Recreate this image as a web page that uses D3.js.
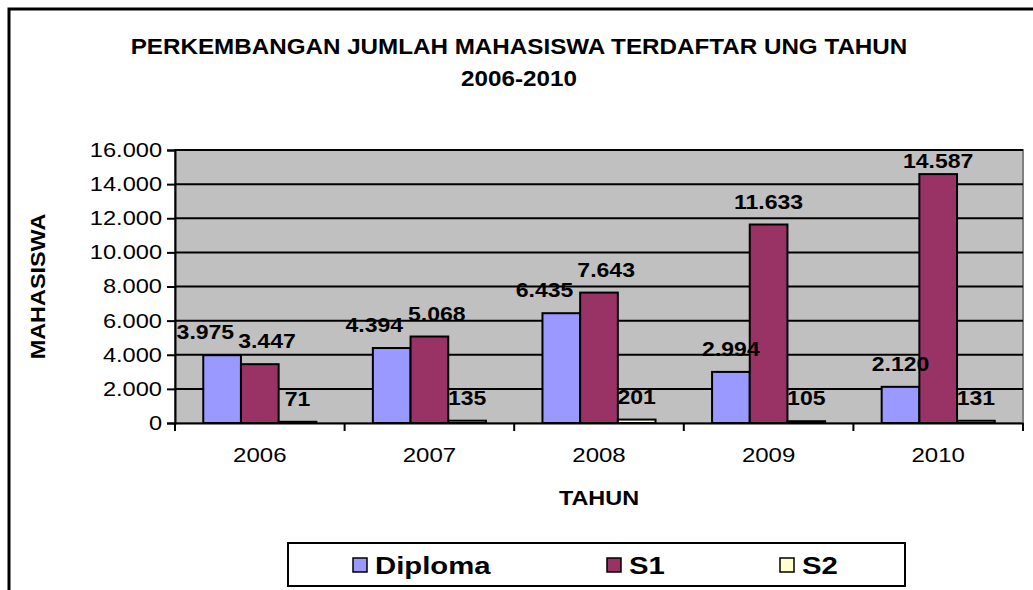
<!DOCTYPE html>
<html>
<head>
<meta charset="utf-8">
<script src="https://cdn.jsdelivr.net/npm/d3@7"></script>
<style>
  body { margin: 0; background: #fff; }
  text { font-family: "Liberation Sans", Arial, sans-serif; }
</style>
</head>
<body>
<script>
// data
var years = ["2006", "2007", "2008", "2009", "2010"];
var seriesNames = ["Diploma", "S1", "S2"];
var diploma = [3975, 4394, 6435, 2994, 2120];
var s1 = [3447, 5068, 7643, 11633, 14587];
var s2 = [71, 135, 201, 105, 131];
var yTicks = [0, 2000, 4000, 6000, 8000, 10000, 12000, 14000, 16000];
var colors = ["#9999FF", "#993366", "#FFFFCC"];

var values = [diploma, s1, s2];

var width = 1033, height = 590;
var plot = {left: 175, top: 150, right: 1023, bottom: 423};

// indonesian style number: 3.975
var fmt = d3.formatLocale({decimal: ",", thousands: ".", grouping: [3], currency: ["", ""]}).format(",");

// the source image is a bit wider than tall, so text is stretched sideways
function stretch(sel, k){
    sel.each(function(){
        var len = this.getComputedTextLength();
        d3.select(this).attr("textLength", len * k).attr("lengthAdjust", "spacingAndGlyphs");
    });
}

var svg = d3.select("body").append("svg")
    .attr("width", width)
    .attr("height", height);

svg.append("rect").attr("width", width).attr("height", height).attr("fill", "#fff");

// outer chart frame (runs off the right and bottom edge)
svg.append("rect")
    .attr("x", 9).attr("y", 9)
    .attr("width", 1040).attr("height", 600)
    .attr("fill", "none").attr("stroke", "#000").attr("stroke-width", 3);

// title
svg.selectAll(".title")
    .data(["PERKEMBANGAN JUMLAH MAHASISWA TERDAFTAR UNG TAHUN", "2006-2010"])
    .enter().append("text")
    .attr("class", "title")
    .attr("x", 519)
    .attr("y", function(d, i){ return 54 + i * 32; })
    .attr("text-anchor", "middle")
    .attr("font-weight", "bold")
    .attr("font-size", 22)
    .text(function(d){ return d; })
    .call(stretch, 1.1);

var x = d3.scaleBand().domain(years).range([plot.left, plot.right]).padding(0);
var bw = x.bandwidth() / 4.5;
var y = d3.scaleLinear().domain([0, 16000]).range([plot.bottom, plot.top]);

// plot background
svg.append("rect")
    .attr("x", plot.left).attr("y", plot.top)
    .attr("width", plot.right - plot.left).attr("height", plot.bottom - plot.top)
    .attr("fill", "#C0C0C0").attr("stroke", "#808080").attr("stroke-width", 2);

// gridlines
svg.append("g").selectAll("line")
    .data(yTicks.filter(function(d){ return d > 0; }))
    .enter().append("line")
    .attr("x1", plot.left).attr("x2", plot.right)
    .attr("y1", function(d){ return y(d); }).attr("y2", function(d){ return y(d); })
    .attr("stroke", "#000").attr("stroke-width", 2);

// bars
var groups = svg.append("g").selectAll("g")
    .data(years)
    .enter().append("g");

function rows(yr, i){
    return values.map(function(v, s){ return {s: s, yr: yr, v: v[i]}; });
}

groups.selectAll("rect")
    .data(rows)
    .enter().append("rect")
    .attr("x", function(d){ return x(d.yr) + bw * 0.75 + d.s * bw; })
    .attr("y", function(d){ return y(d.v); })
    .attr("width", bw)
    .attr("height", function(d){ return plot.bottom - y(d.v); })
    .attr("fill", function(d){ return colors[d.s]; })
    .attr("stroke", "#000").attr("stroke-width", 2);

// value labels
var labels = svg.append("g");
groups.each(function(yr, i){
    var t = labels.selectAll(".lbl-" + i)
        .data(rows(yr, i))
        .enter().append("text")
        .attr("class", "lbl-" + i)
        .attr("x", function(d){ return x(d.yr) + bw * 1.25 + d.s * bw; })
        .attr("y", function(d){ return Math.max(plot.top + 18, y(d.v) - 16); })
        .attr("text-anchor", "middle")
        .attr("font-weight", "bold")
        .attr("font-size", 20)
        .text(function(d){ return fmt(d.v); })
        .call(stretch, 1.15);
    // push apart neighbours that collide
    var nodes = t.nodes();
    for (var k = 0; k < nodes.length - 1; k++){
        var a = nodes[k].getBBox(), b = nodes[k + 1].getBBox();
        var ya = +d3.select(nodes[k]).attr("y"), yb = +d3.select(nodes[k + 1]).attr("y");
        var overlapX = a.x + a.width + 4 - b.x;
        if (overlapX > 0 && Math.abs(ya - yb) < 22){
            d3.select(nodes[k]).attr("x", +d3.select(nodes[k]).attr("x") - overlapX * 0.7);
            d3.select(nodes[k + 1]).attr("x", +d3.select(nodes[k + 1]).attr("x") + overlapX * 0.3);
        }
    }
});

// y axis
var yAxis = svg.append("g")
    .attr("transform", "translate(" + plot.left + ",0)")
    .call(d3.axisLeft(y).tickValues(yTicks).tickFormat(fmt).tickSize(8).tickPadding(5));
yAxis.select(".domain").attr("stroke", "#000").attr("stroke-width", 2);
yAxis.selectAll(".tick line").attr("stroke", "#000").attr("stroke-width", 2);
yAxis.selectAll(".tick text")
    .attr("font-family", "Liberation Sans, Arial, sans-serif")
    .attr("font-size", 20).attr("fill", "#000")
    .call(stretch, 1.18);

// x axis: ticks at category boundaries
var xAxis = svg.append("g")
    .attr("transform", "translate(0," + plot.bottom + ")")
    .call(d3.axisBottom(x).tickSize(0).tickPadding(25));
xAxis.select(".domain").attr("stroke", "#000").attr("stroke-width", 2);
xAxis.selectAll(".tick text")
    .attr("font-family", "Liberation Sans, Arial, sans-serif")
    .attr("font-size", 20).attr("fill", "#000")
    .call(stretch, 1.2);
xAxis.selectAll(".bound")
    .data(years.map(function(d){ return x(d); }).concat([plot.right]))
    .enter().append("line")
    .attr("class", "bound")
    .attr("x1", function(d){ return d; }).attr("x2", function(d){ return d; })
    .attr("y1", 0).attr("y2", 8)
    .attr("stroke", "#000").attr("stroke-width", 2);

// axis titles
svg.append("text")
    .attr("x", (plot.left + plot.right) / 2).attr("y", 505)
    .attr("text-anchor", "middle")
    .attr("font-weight", "bold").attr("font-size", 20)
    .text("TAHUN")
    .call(stretch, 1.17);

svg.append("text")
    .attr("transform", "translate(45," + ((plot.top + plot.bottom) / 2) + ") rotate(-90)")
    .attr("text-anchor", "middle")
    .attr("font-weight", "bold").attr("font-size", 20)
    .text("MAHASISWA")
    .call(stretch, 1.17);

// legend
var legend = svg.append("g");
legend.append("rect")
    .attr("x", 288).attr("y", 543)
    .attr("width", 617).attr("height", 43)
    .attr("fill", "#fff").attr("stroke", "#000").attr("stroke-width", 2);

var legendX = [353, 607, 780];
var items = legend.selectAll(".item")
    .data(seriesNames)
    .enter().append("g")
    .attr("class", "item")
    .attr("transform", function(d, i){ return "translate(" + legendX[i] + ",565)"; });
items.append("rect")
    .attr("x", 0).attr("y", -7)
    .attr("width", 14).attr("height", 14)
    .attr("fill", function(d, i){ return colors[i]; })
    .attr("stroke", "#000").attr("stroke-width", 1.5);
items.append("text")
    .attr("x", 22).attr("y", 9)
    .attr("font-weight", "bold").attr("font-size", 24)
    .text(function(d){ return d; })
    .call(stretch, 1.22);
</script>
</body>
</html>
